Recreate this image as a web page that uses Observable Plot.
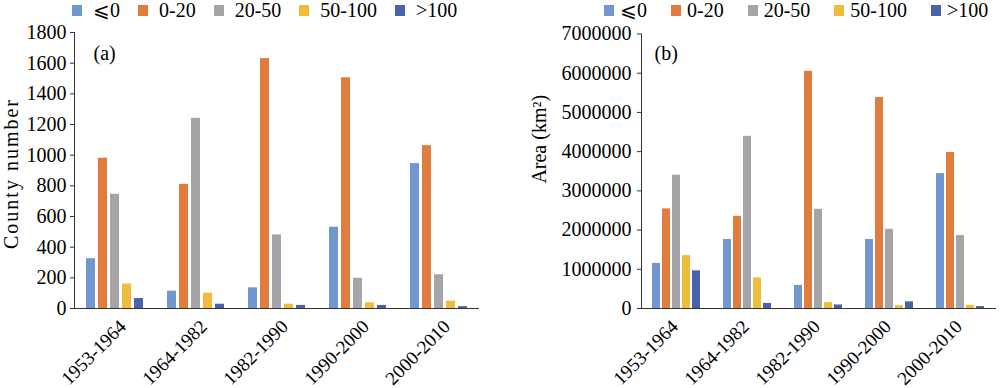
<!DOCTYPE html>
<html><head><meta charset="utf-8">
<script src="https://cdn.jsdelivr.net/npm/d3@7"></script>
<script src="https://cdn.jsdelivr.net/npm/@observablehq/plot@0.6"></script>
<style>
body{margin:0;background:#fff;font-family:"Liberation Serif",serif;}
#wrap{display:flex;width:1000px;height:388px;overflow:hidden;}
.panel{width:500px;height:388px;position:relative;}
.legend{display:flex;align-items:center;height:20px;font-size:20px;line-height:20px;color:#000;white-space:nowrap;}
.item{display:flex;align-items:center;}
.sw{width:10px;height:11px;}
svg{display:block;}
</style></head><body><div id="wrap"></div>
<script>
const periods = ["1953-1964", "1964-1982", "1982-1990", "1990-2000", "2000-2010"];
const classes = ["⩽0", "0-20", "20-50", "50-100", ">100"];
const colors = ["#7297cf", "#e07d3e", "#a5a4a8", "#f0bc3c", "#4a62a8"];

// (a) County number per class, by period
const countyLe0   = [325, 113, 135, 530, 945];
const county0_20  = [980, 810, 1630, 1505, 1062];
const county20_50 = [745, 1240, 480, 197, 220];
const county50_100 = [160, 100, 28, 37, 48];
const countyGt100 = [65, 28, 20, 20, 12];

// (b) Area (km2) per class, by period
const areaLe0    = [1150000, 1760000, 590000, 1760000, 3440000];
const area0_20   = [2540000, 2350000, 6050000, 5380000, 3980000];
const area20_50  = [3400000, 4390000, 2530000, 2020000, 1860000];
const area50_100 = [1350000, 780000, 150000, 70000, 80000];
const areaGt100  = [960000, 130000, 90000, 170000, 50000];

const countyTicks = [0, 200, 400, 600, 800, 1000, 1200, 1400, 1600, 1800];
const areaTicks = [0, 1000000, 2000000, 3000000, 4000000, 5000000, 6000000, 7000000];

function table(series) {
  return periods.flatMap((p, i) => classes.map((c, j) => ({period: p, cls: c, value: series[j][i]})));
}

function legend(padLeft, gap, after) {
  const div = d3.create("div").attr("class", "legend").style("padding-left", padLeft + "px");
  classes.forEach((c, j) => {
    const it = div.append("div").attr("class", "item").style("margin-right", after + "px");
    it.append("span").attr("class", "sw").style("background", colors[j]).style("margin-right", gap + "px");
    it.append("span").text(c);
  });
  return div.node();
}

function chart(o) {
  const svg = Plot.plot({
    width: 500, height: 368,
    marginLeft: o.ml, marginRight: o.mr, marginTop: o.mt, marginBottom: 80,
    style: {fontFamily: "'Liberation Serif', serif", fontSize: "20px", color: "#000", background: "#fff", overflow: "visible"},
    fx: {domain: periods, padding: 0, label: null},
    x: {domain: classes, paddingInner: o.pi, paddingOuter: o.po, axis: null},
    y: {domain: o.yDomain, label: null},
    color: {domain: classes, range: colors},
    marks: [
      Plot.barY(o.data, {fx: "period", x: "cls", y: "value", fill: "cls"}),
      Plot.ruleY([0], {stroke: "#333"}),
      Plot.frame({anchor: "left", stroke: "#333", facet: "super"}),
      Plot.axisY({ticks: o.ticks, tickFormat: d3.format("d"), tickSize: 4, tickPadding: o.tp, label: null, stroke: "#333", fill: "#000"}),
      Plot.axisFx({anchor: "bottom", tickSize: 0, tickRotate: -45, tickPadding: 15, dx: o.fxDx, fontSize: 19, label: null, fill: "#000"}),
      Plot.text([o.label], {text: d => d, frameAnchor: "left", textAnchor: "middle", lineAnchor: "middle", rotate: -90, dx: o.labelDx, dy: o.labelDy, facet: "super", fill: "#000", className: "ylab"}),
      Plot.text([o.tag], {text: d => d, frameAnchor: "top-left", textAnchor: "start", lineAnchor: "middle", dx: o.tagDx, dy: o.tagDy, facet: "super", fill: "#000"})
    ]
  });
  d3.select(svg).selectAll(".ylab text").style("letter-spacing", o.ls + "px");
  return svg;
}

const wrap = d3.select("#wrap");
const left = wrap.append("div").attr("class", "panel");
left.node().appendChild(legend(72, 11, 18));
left.node().appendChild(chart({
  data: table([countyLe0, county0_20, county20_50, county50_100, countyGt100]),
  yDomain: [0, 1800], ticks: countyTicks, ml: 73, mr: 20, mt: 12, pi: 0.21, po: 0.82, tp: 4,
  fxDx: 8, label: "County number", labelDx: -63, labelDy: 3, ls: 2, tag: "(a)", tagDx: 19, tagDy: 21
}));
const right = wrap.append("div").attr("class", "panel");
right.node().appendChild(legend(104, 6, 24));
right.node().appendChild(chart({
  data: table([areaLe0, area0_20, area20_50, area50_100, areaGt100]),
  yDomain: [0, 7000000], ticks: areaTicks, ml: 140, mr: 4, mt: 13.5, pi: 0.18, po: 0.86, tp: 6,
  fxDx: -2, label: "Area (km²)", labelDx: -102, labelDy: -32, ls: 0, tag: "(b)", tagDx: 13, tagDy: 19.5
}));
</script></body></html>
